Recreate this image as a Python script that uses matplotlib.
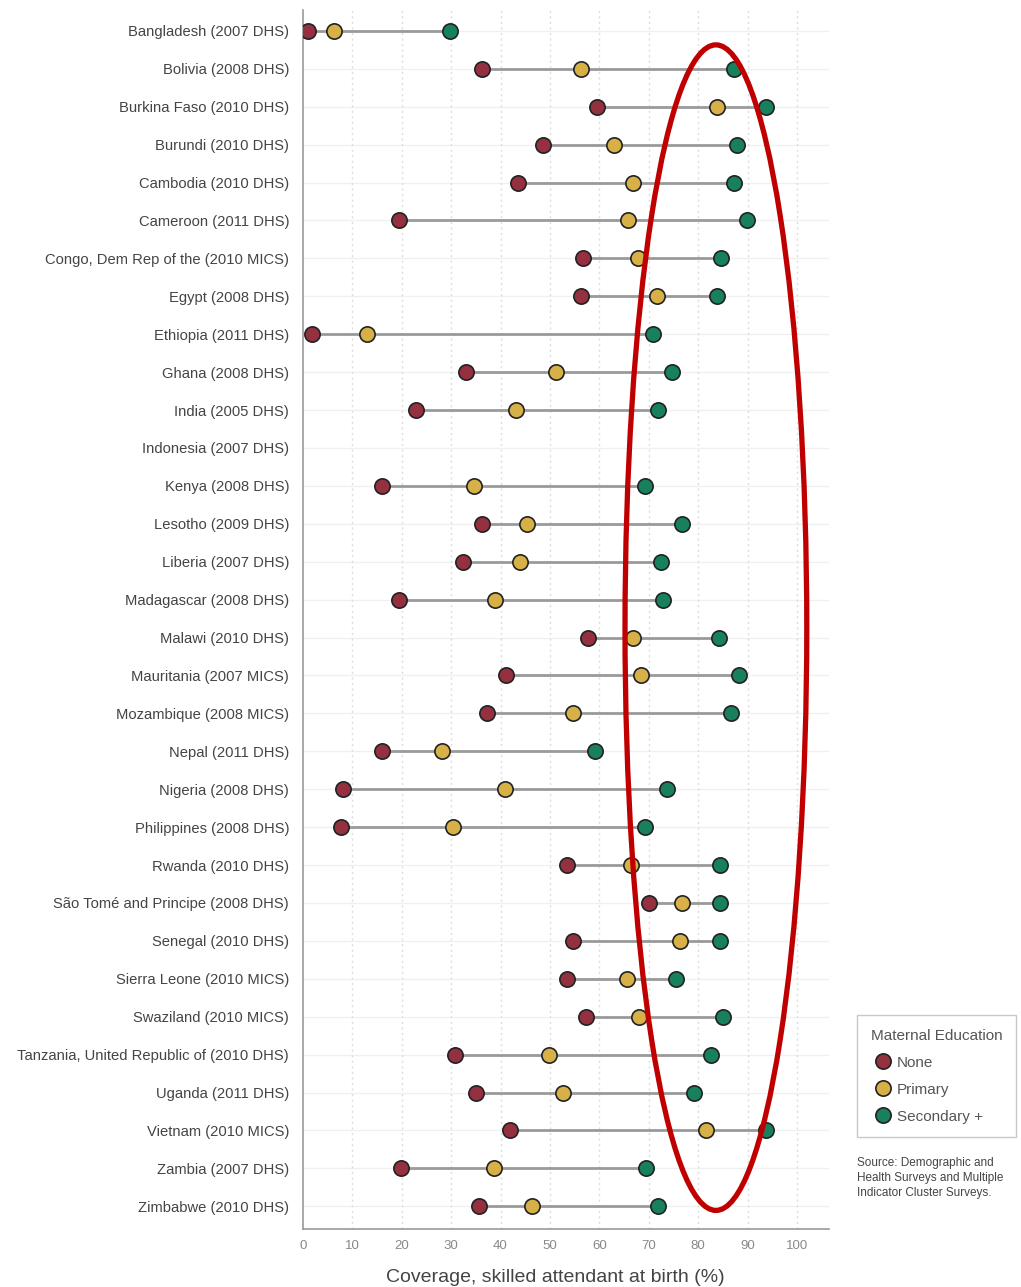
import numpy as np
import matplotlib
matplotlib.use("Agg")
import matplotlib.pyplot as plt
from matplotlib.patches import Ellipse
from matplotlib.lines import Line2D

countries = [
    "Bangladesh (2007 DHS)", "Bolivia (2008 DHS)", "Burkina Faso (2010 DHS)",
    "Burundi (2010 DHS)", "Cambodia (2010 DHS)", "Cameroon (2011 DHS)",
    "Congo, Dem Rep of the (2010 MICS)", "Egypt (2008 DHS)", "Ethiopia (2011 DHS)",
    "Ghana (2008 DHS)", "India (2005 DHS)", "Indonesia (2007 DHS)",
    "Kenya (2008 DHS)", "Lesotho (2009 DHS)", "Liberia (2007 DHS)",
    "Madagascar (2008 DHS)", "Malawi (2010 DHS)", "Mauritania (2007 MICS)",
    "Mozambique (2008 MICS)", "Nepal (2011 DHS)", "Nigeria (2008 DHS)",
    "Philippines (2008 DHS)", "Rwanda (2010 DHS)", "São Tomé and Principe (2008 DHS)",
    "Senegal (2010 DHS)", "Sierra Leone (2010 MICS)", "Swaziland (2010 MICS)",
    "Tanzania, United Republic of (2010 DHS)", "Uganda (2011 DHS)",
    "Vietnam (2010 MICS)", "Zambia (2007 DHS)", "Zimbabwe (2010 DHS)",
]

none_edu = [1.1, 36.3, 59.5, 48.5, 43.6, 19.4, 56.6, 56.3, 1.9, 33.1, 22.9, np.nan,
            15.9, 36.3, 32.3, 19.4, 57.8, 41.2, 37.2, 15.9, 8.0, 7.6, 53.5, 70.0,
            54.6, 53.4, 57.2, 30.7, 35.0, 41.9, 19.9, 35.6]
primary_edu = [6.3, 56.2, 83.8, 63.0, 66.9, 65.8, 67.9, 71.7, 12.9, 51.3, 43.1, np.nan,
               34.7, 45.3, 44.0, 38.8, 66.9, 68.5, 54.6, 28.2, 40.8, 30.3, 66.5, 76.7,
               76.4, 65.5, 68.0, 49.9, 52.7, 81.5, 38.6, 46.4]
secondary_edu = [29.8, 87.3, 93.7, 87.9, 87.3, 89.9, 84.7, 83.8, 70.9, 74.7, 71.8, np.nan,
                 69.3, 76.8, 72.4, 72.8, 84.2, 88.2, 86.6, 59.1, 73.7, 69.3, 84.4, 84.4,
                 84.4, 75.6, 85.1, 82.7, 79.1, 93.7, 69.4, 71.8]

series_names = ["None", "Primary", "Secondary +"]
series_colors = ["#94303f", "#d8b048", "#17805c"]
xticks = [0, 10, 20, 30, 40, 50, 60, 70, 80, 90, 100]

plt.rcParams['font.family'] = ['Liberation Sans', 'DejaVu Sans']

fig = plt.figure(figsize=(10.21, 12.87), dpi=100)
ax = fig.add_axes([303/1021, 1 - 1229/1287, (829-303)/1021, (1229-10)/1287])

y = np.arange(len(countries))
n = np.array(none_edu); p = np.array(primary_edu); s = np.array(secondary_edu)
lo = np.nanmin(np.vstack([n, p, s]), axis=0)
hi = np.nanmax(np.vstack([n, p, s]), axis=0)

for yi in y:
    ax.axhline(yi, color="#f0f0f0", lw=1.0, zorder=0)
ax.hlines(y, lo, hi, color="#9a9a9a", lw=2.0, zorder=2)

for vals, col in zip([n, p, s], series_colors):
    ax.plot(vals, y, "o", ms=11, mfc=col, mec="#222222", mew=1.2, zorder=3, ls="none")

ax.set_xlim(0, 106.5)
ax.set_ylim(len(countries) - 1 + 0.6, -0.55)
ax.set_xticks(xticks)
ax.set_xticklabels([str(t) for t in xticks], fontsize=9.5, color="#888888")
ax.set_yticks(y)
ax.set_yticklabels(countries, fontsize=10.6, color="#444444")
ax.tick_params(axis="both", length=0)
ax.tick_params(axis="y", pad=10)
ax.tick_params(axis="x", pad=8)

for t in xticks[1:]:
    ax.axvline(t, color="#dddddd", lw=1.0, ls=(0, (1.5, 2.5)), zorder=1)

for sp in ["top", "right"]:
    ax.spines[sp].set_visible(False)
ax.spines["left"].set_color("#999999")
ax.spines["bottom"].set_color("#999999")
ax.spines["left"].set_linewidth(1.2)
ax.spines["bottom"].set_linewidth(1.2)

ax.set_xlabel("Coverage, skilled attendant at birth (%)", fontsize=14, color="#444444")
ax.xaxis.set_label_coords((555-303)/(829-303), -0.033)

ell = Ellipse((83.6, 15.74), width=36.8, height=30.74, fill=False,
              edgecolor="#c00000", lw=3.8, zorder=5, clip_on=False)
ax.add_patch(ell)

handles = [Line2D([], [], marker="o", ls="none", ms=11, mfc=c, mec="#222222", mew=1.2)
           for c in series_colors]
leg = fig.legend(handles, series_names, title="Maternal Education",
                 loc="upper left", bbox_to_anchor=(857/1021, 1 - 1015/1287),
                 fontsize=11, title_fontsize=11, frameon=True, fancybox=False,
                 edgecolor="#bbbbbb", handletextpad=0.1, labelspacing=0.85,
                 borderpad=0.9, borderaxespad=0.0, alignment="left", handlelength=1.6)
for t in leg.get_texts():
    t.set_color("#555555")
leg.get_title().set_color("#555555")

fig.text(857/1021, 1 - 1157/1287,
         "Source: Demographic and\nHealth Surveys and Multiple\nIndicator Cluster Surveys.",
         fontsize=8.5, color="#444444", va="top", ha="left", linespacing=1.35)

fig.savefig("out.png", dpi=100, facecolor="white")
